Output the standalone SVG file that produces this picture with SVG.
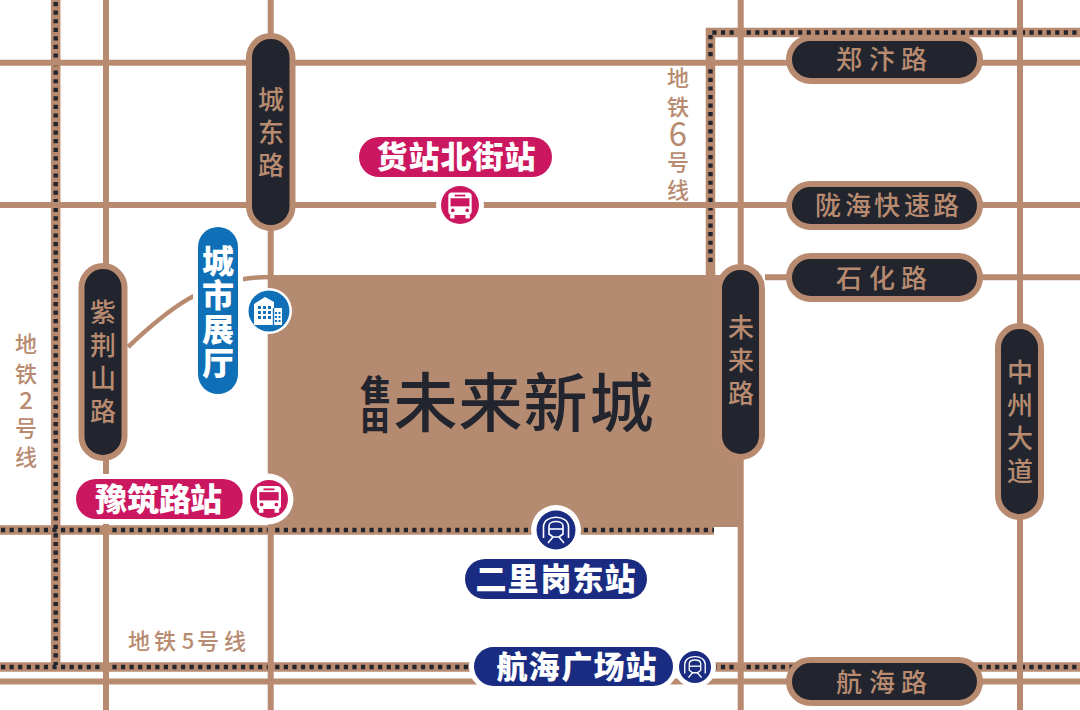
<svg xmlns="http://www.w3.org/2000/svg" xmlns:xlink="http://www.w3.org/1999/xlink" width="1080" height="710" viewBox="0 0 1080 710">
<style>
.road{stroke:#b88b70;stroke-width:6;fill:none}
.mbase{stroke:#b88b70;stroke-width:9.500;fill:none}
.mdots{stroke:#22252d;stroke-width:4.400;stroke-dasharray:4.200 4.370;fill:none}
.pill{fill:#22252d;stroke:#b88b70;stroke-width:6}
.t{font-family:"Noto Sans CJK SC","Noto Sans",sans-serif;font-size:26px;font-weight:500;fill:#b88b70;text-anchor:middle}
.lab{font-family:"Noto Sans CJK SC","Noto Sans",sans-serif;font-size:22px;font-weight:500;fill:#b88b70;text-anchor:middle}
.b{font-family:"Noto Sans CJK SC","Noto Sans",sans-serif;font-size:31px;font-weight:900;fill:#fff;text-anchor:middle}
.logo{font-family:"Noto Sans CJK SC","Noto Sans",sans-serif;font-weight:500;fill:#22252d;text-anchor:middle}
.halo{fill:#fff}
.pink{fill:#cb175f}.blue{fill:#0f70b7}.navy{fill:#1a2c82}
</style>
<defs>
<g id="bus">
<rect x="-13" y="-14" width="26" height="25" rx="4" fill="#fff"/>
<rect x="-10.500" y="-7.500" width="21" height="9" fill="#cb175f"/>
<rect x="-6" y="-11.500" width="12" height="2" fill="#cb175f"/>
<circle cx="-8" cy="6" r="2" fill="#cb175f"/>
<circle cx="8" cy="6" r="2" fill="#cb175f"/>
<rect x="-11" y="11" width="5" height="4" rx="1" fill="#fff"/>
<rect x="6" y="11" width="5" height="4" rx="1" fill="#fff"/>
</g>
<g id="train" fill="none" stroke="#fff" stroke-width="1.600">
<path d="M-12.500 8V-3C-12.500 -16 12.500 -16 12.500 -3V8"/>
<path d="M-7 4V-4C-7 -10 7 -10 7 -4V4L3 7H-3Z"/>
<path d="M-7 -1H7"/>
<path d="M-3 7L-8 13M3 7L8 13"/>
</g>
<g id="bld">
<path d="M-14 14V-7L-3 -14L6 -9V-3H14V14Z" fill="#fff"/>
<g fill="#0f70b7">
<rect x="-10" y="-5" width="3" height="3"/><rect x="-5" y="-5" width="3" height="3"/><rect x="0" y="-5" width="3" height="3"/>
<rect x="-10" y="0" width="3" height="3"/><rect x="-5" y="0" width="3" height="3"/><rect x="0" y="0" width="3" height="3"/>
<rect x="-10" y="5" width="3" height="3"/><rect x="-5" y="5" width="3" height="3"/><rect x="0" y="5" width="3" height="3"/>
<rect x="7" y="1" width="2" height="2"/><rect x="10.500" y="1" width="2" height="2"/>
<rect x="7" y="5" width="2" height="2"/><rect x="10.500" y="5" width="2" height="2"/>
<rect x="7" y="9" width="2" height="2"/><rect x="10.500" y="9" width="2" height="2"/>
<rect x="4.800" y="-3" width="1.400" height="17"/>
</g>
</g>
</defs>
<rect width="1080" height="710" fill="#fff"/>
<g id="connectors">
<path class="mbase" d="M55.700 0V667M0 667H1080M0 530H714M710.500 275V32.500H1080"/>
<path class="mdots" d="M55.700 2V665"/>
<path class="mdots" d="M1 667H1080"/>
<path class="mdots" d="M1 530H714"/>
<path class="mdots" d="M710.500 262V32.500H1080"/>
<path class="road" d="M106 0V710M270.700 0V710M740.700 0V710M1020 0V710M0 62.800H1080M0 205H1080M765 277.300H1080M0 681.600H1080"/>
<path class="road" style="stroke-width:4.500" d="M128 347C165 312 205 277 270 277"/>
</g>
<g id="site">
<rect x="268" y="275" width="475" height="252" fill="#b48a70"/>
<text class="logo" style="font-size:64px" x="425.500 490.500 555.500 621.500" y="426">未来新城</text>
<text class="logo" style="font-size:30px;font-weight:900" x="375" y="401">隹</text>
<text class="logo" style="font-size:28px;font-weight:900" x="375" y="431">田</text>
</g>
<g id="n-chengdong"><rect class="pill" x="249" y="36" width="43.500" height="192" rx="21.700"/><text class="t" x="271" y="109">城</text><text class="t" x="271" y="142">东</text><text class="t" x="271" y="175">路</text></g>
<g id="n-zijingshan"><rect class="pill" x="81.500" y="266" width="43" height="192" rx="21.500"/><text class="t" x="103" y="322">紫</text><text class="t" x="103" y="355">荆</text><text class="t" x="103" y="388">山</text><text class="t" x="103" y="421">路</text></g>
<g id="n-weilai"><rect class="pill" x="719" y="267" width="43" height="190" rx="21.500"/><text class="t" x="741" y="337">未</text><text class="t" x="741" y="370">来</text><text class="t" x="741" y="403">路</text></g>
<g id="n-zhongzhou"><rect class="pill" x="998" y="326" width="43" height="191" rx="21.500"/><text class="t" x="1020" y="382">中</text><text class="t" x="1020" y="415">州</text><text class="t" x="1020" y="448">大</text><text class="t" x="1020" y="481">道</text></g>
<g id="n-zhengbian"><rect class="pill" x="789" y="38" width="191" height="43" rx="21.500"/><text class="t" x="849 882 914" y="69">郑汴路</text></g>
<g id="n-longhai"><rect class="pill" x="789" y="184" width="191" height="43" rx="21.500"/><text class="t" x="828 858 887 917 946" y="215">陇海快速路</text></g>
<g id="n-shihua"><rect class="pill" x="789" y="256" width="191" height="43" rx="21.500"/><text class="t" x="849 882 914" y="288">石化路</text></g>
<g id="n-hanghai"><rect class="pill" x="789" y="660" width="191" height="43" rx="21.500"/><text class="t" x="849 882 914" y="692">航海路</text></g>
<g id="labels">
<text class="lab" x="26" y="352">地</text><text class="lab" x="26" y="382">铁</text><text class="lab" style="font-size:24px" x="26" y="409">2</text><text class="lab" x="26" y="436">号</text><text class="lab" x="26" y="465">线</text>
<text class="lab" x="678" y="86">地</text><text class="lab" x="678" y="115">铁</text><text class="lab" style="font-size:33px;font-weight:400" x="678" y="146">6</text><text class="lab" x="678" y="170">号</text><text class="lab" x="678" y="198">线</text>
<text class="lab" x="139 165 188 208 235" y="649">地铁5号线</text>
</g>
<g id="n-huozhan">
<rect class="pink" x="359" y="137" width="193" height="40" rx="20"/>
<text class="b" x="392 424 456 488 520" y="168">货站北街站</text>
</g>
<g id="n-huozhan-icon"><circle class="halo" cx="460" cy="205" r="24"/><circle class="pink" cx="460" cy="205" r="19"/><use href="#bus" transform="translate(460,205) scale(.9)"/></g>
<g id="n-zhanting">
<rect class="halo" x="193" y="222" width="50" height="177" rx="25"/>
<rect class="blue" x="198" y="227" width="40" height="167" rx="20"/>
<text class="b" style="font-size:32px" x="218" y="273">城</text><text class="b" style="font-size:32px" x="218" y="307">市</text><text class="b" style="font-size:32px" x="218" y="341">展</text><text class="b" style="font-size:32px" x="218" y="375">厅</text>
</g>
<g id="n-zhanting-icon"><circle class="halo" cx="269" cy="311" r="23"/><circle class="blue" cx="269" cy="311" r="20.500"/><use href="#bld" transform="translate(268,311)"/></g>
<g id="n-yuzhu">
<rect class="halo" x="71" y="474" width="177" height="50" rx="25"/>
<rect class="pink" x="76" y="479" width="167" height="40" rx="20"/>
<text class="b" style="font-size:32px" x="111 143 175 206" y="511">豫筑路站</text>
</g>
<g id="n-yuzhu-icon"><circle class="halo" cx="268" cy="499" r="25.500"/><circle class="pink" cx="269" cy="499" r="19"/><use href="#bus" transform="translate(269,499) scale(.92)"/></g>
<g id="n-erli">
<rect class="navy" x="465" y="559" width="182" height="40" rx="20"/>
<text class="b" x="491 523 556 588 620" y="590">二里岗东站</text>
</g>
<g id="n-erli-icon"><circle class="halo" cx="556" cy="530" r="25"/><circle class="navy" cx="556" cy="530" r="19.500"/><use href="#train" transform="translate(556,530)"/></g>
<g id="n-hanghaiguang">
<rect class="halo" x="469" y="642" width="209" height="49" rx="24.500"/>
<rect class="navy" x="474" y="647" width="199" height="39" rx="19.500"/>
<text class="b" x="512 544 577 609 641" y="678">航海广场站</text>
</g>
<g id="n-hanghaiguang-icon"><circle class="halo" cx="695" cy="667" r="21"/><circle class="navy" cx="695" cy="667" r="16"/><use href="#train" transform="translate(695,667) scale(.82)"/></g>
</svg>
